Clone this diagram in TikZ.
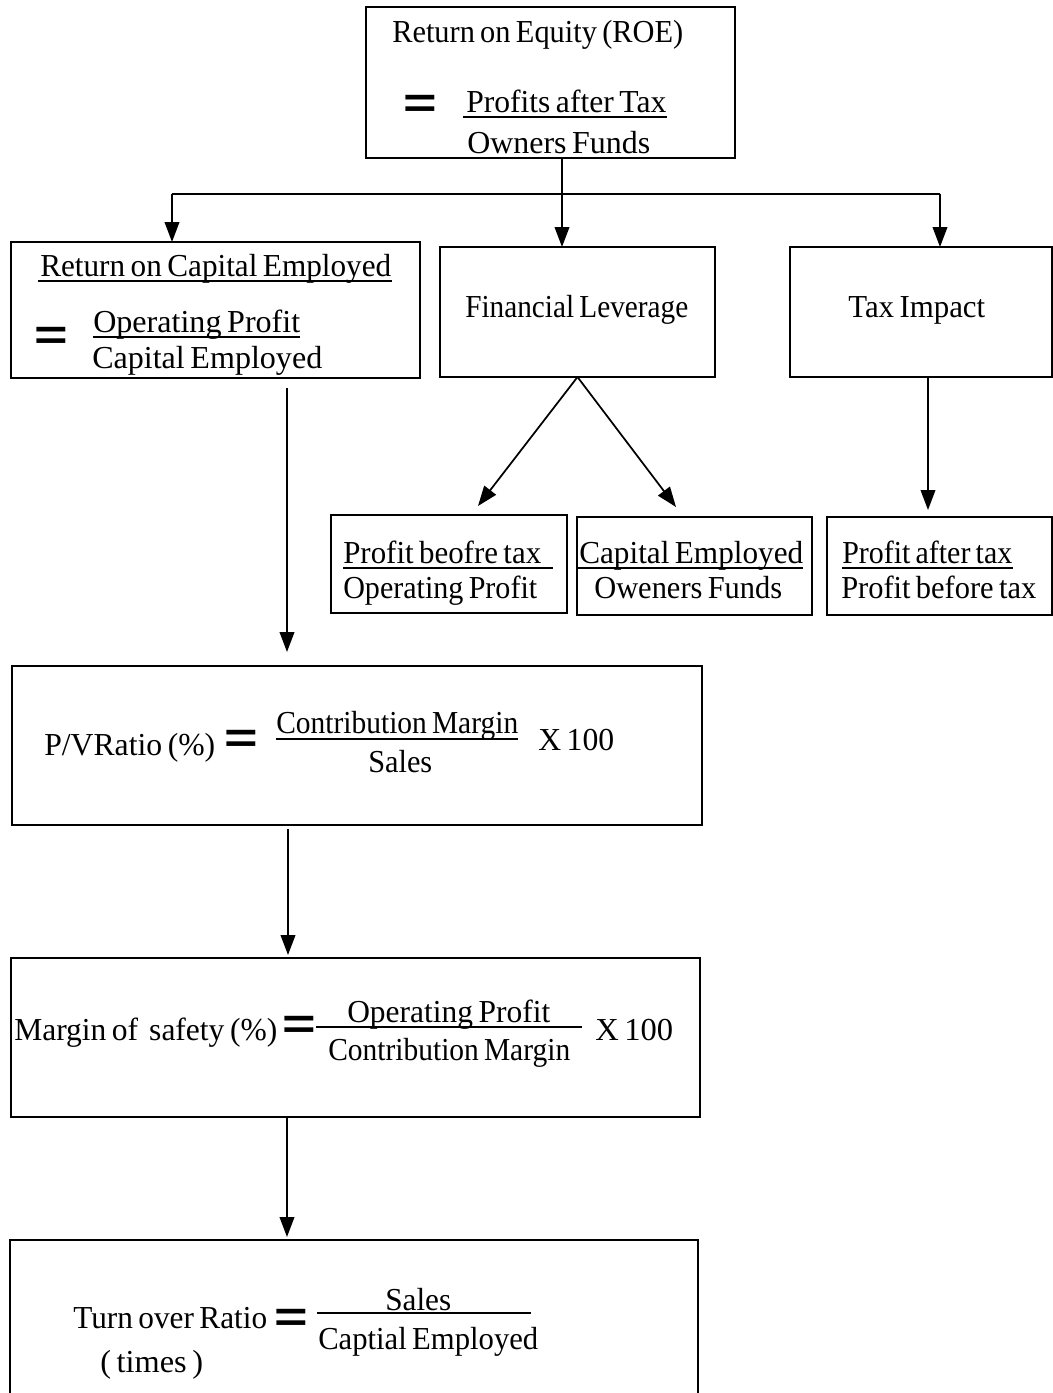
\documentclass[tikz,border=0pt]{standalone}
\usepackage{fontspec}
\setmainfont[WordSpace=0.7]{Liberation Serif}
\newfontfamily\eqfont[FakeStretch=1.35]{Liberation Sans}
\usetikzlibrary{arrows.meta}
\newcommand\fw[2]{\resizebox{\dimexpr 0.75pt*#1\relax}{\height}{#2}}
\begin{document}
\begin{tikzpicture}[x=0.75pt,y=-0.75pt,
  box/.style={draw, line width=1pt, inner sep=0pt, outer sep=0pt},
  sz/.style 2 args={minimum width=#1*0.75pt, minimum height=#2*0.75pt},
  txt/.style={inner sep=0pt, anchor=base west, font=\fontsize{24}{28}\selectfont},
  eqs/.style={inner sep=0pt, anchor=center, font=\eqfont\bfseries\fontsize{32}{32}\selectfont},
  arr/.style={line width=1.3pt, -{Triangle[length=15pt,width=11pt]}},
  ul/.style={line width=0.9pt}]
\useasboundingbox (0,0) rectangle (1053,1393);
% boxes
\node[box, sz={369}{151}] (roe) at (550.5,82.5) {};
\node[box, sz={409}{136}] (roce) at (215.5,310) {};
\node[box, sz={275}{130}] (fl) at (577.5,312) {};
\node[box, sz={262}{130}] (tax) at (921,312) {};
\node[box, sz={236}{98}] (pbt) at (449,564) {};
\node[box, sz={235}{98}] (ce) at (694.5,566) {};
\node[box, sz={225}{98}] (pat) at (939.5,566) {};
\node[box, sz={690}{159}] (pv) at (357,745.5) {};
\node[box, sz={689}{159}] (mos) at (355.5,1037.5) {};
\node[box, sz={688}{160}] (tor) at (354,1320) {};
% ROE text
\node[txt] (t1) at (392,42) {\fw{291}{Return on Equity (ROE)}};
\node[eqs] (e1) at (420,106) {=};
\node[txt] (t2) at (466,112) {\fw{200}{Profits after Tax}};
\draw[ul] (463,117) -- (667,117);
\node[txt] (t3) at (467,153) {\fw{183}{Owners Funds}};
% ROCE text
\node[txt] (t4) at (40,276) {\fw{351}{Return on Capital Employed}};
\draw[ul] (38,281) -- (392,281);
\node[eqs] (e2) at (51,338) {=};
\node[txt] (t5) at (93,332) {\fw{207}{Operating Profit}};
\draw[ul] (93,337) -- (300,337);
\node[txt] (t6) at (92,368) {\fw{230}{Capital Employed}};
% FL, Tax
\node[txt] (t7) at (465,317) {\fw{223}{Financial Leverage}};
\node[txt] (t8) at (848,317) {\fw{137}{Tax Impact}};
% bottom three
\node[txt] (t9) at (343,563) {\fw{198}{Profit beofre tax}};
\draw[ul] (343,568) -- (553,568);
\node[txt] (t10) at (343,598) {\fw{194}{Operating Profit}};
\node[txt] (t11) at (579,563) {\fw{224}{Capital Employed}};
\draw[ul] (578,568) -- (803,568);
\node[txt] (t12) at (594,598) {\fw{188}{Oweners Funds}};
\node[txt] (t13) at (842,563) {\fw{170}{Profit after tax}};
\draw[ul] (842,568) -- (1013,568);
\node[txt] (t14) at (841,598) {\fw{195}{Profit before tax}};
% P/V
\node[txt] (t15) at (44,755) {\fw{171}{P/VRatio (\%)}};
\node[eqs] (e3) at (241,741) {=};
\node[txt] (t16) at (276,733) {\fw{242}{Contribution Margin}};
\draw[ul] (276,739) -- (518,739);
\node[txt] (t17) at (368,772) {\fw{64}{Sales}};
\node[txt] (t18) at (538,750) {\fw{76}{X 100}};
% MOS
\node[txt] (t19) at (14,1040) {\fw{263}{Margin of\ \ safety (\%)}};
\node[eqs] (e4) at (299,1027) {=};
\node[txt] (t20) at (347,1022) {\fw{203}{Operating Profit}};
\draw[ul] (316,1027) -- (582,1027);
\node[txt] (t21) at (328,1060) {\fw{242}{Contribution Margin}};
\node[txt] (t22) at (595,1040) {\fw{78}{X 100}};
% Turnover
\node[txt] (t23) at (73,1328) {\fw{194}{Turn over Ratio}};
\node[eqs] (e5) at (291,1320) {=};
\node[txt] (t24) at (385,1310) {\fw{66}{Sales}};
\draw[ul] (317,1313) -- (531,1313);
\node[txt] (t25) at (318,1349) {\fw{220}{Captial Employed}};
\node[txt] (t26) at (100,1372) {\fw{103}{( times )}};
% connectors
\coordinate (j) at (562,194);
\coordinate (jl) at (172,194);
\coordinate (jr) at (940,194);
\draw[line width=2.2pt] (jl) -- (jr);
\draw[line width=1.3pt] (roe.south -| j) -- (j);
\draw[arr] (j) -- (j |- fl.north);
\draw[arr] (jl) -- (jl |- roce.north);
\draw[arr] (jr) -- (jr |- tax.north);
\coordinate (p1) at (478,506);
\coordinate (p2) at (676,507);
\draw[arr] (fl.south) -- (p1);
\draw[arr] (fl.south) -- (p2);
\coordinate (ts) at (928,510);
\draw[arr] (tax.south -| ts) -- (ts);
\coordinate (cs) at (287,652);
\draw[arr, shorten <=7.5pt] (roce.south -| cs) -- (cs);
\coordinate (c2) at (288,955);
\draw[arr, shorten <=3pt] (pv.south -| c2) -- (c2);
\coordinate (c3) at (287,1237);
\draw[arr] (mos.south -| c3) -- (c3);
\end{tikzpicture}
\end{document}
